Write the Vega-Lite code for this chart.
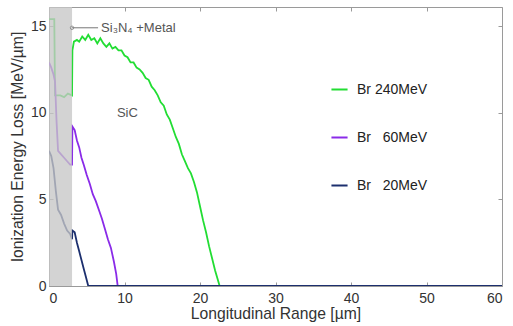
{
  "$schema": "https://vega.github.io/schema/vega-lite/v6.json",
  "width": 453,
  "height": 279,
  "autosize": {"type": "none"},
  "padding": {"left": 49, "top": 7, "right": 11, "bottom": 40},
  "config": {
    "font": "Liberation Sans",
    "view": {"stroke": "#9a9a9a", "strokeWidth": 1},
    "axis": {"grid": false, "domain": false, "tickColor": "#9a9a9a", "tickSize": -4, "labelFontSize": 14, "labelColor": "#333", "titleFontSize": 15.7, "titleColor": "#333", "titleFontWeight": "normal", "labelFont": "Liberation Sans", "titleFont": "Liberation Sans"}
  },
  "datasets": {
    "curves": [
      {"x": 0, "y": 15.4, "s": "Br 240MeV"}, {"x": 0.7, "y": 15.4, "s": "Br 240MeV"}, {"x": 0.8, "y": 11.0, "s": "Br 240MeV"}, {"x": 1.5, "y": 11.0, "s": "Br 240MeV"}, {"x": 2.0, "y": 10.9, "s": "Br 240MeV"}, {"x": 2.5, "y": 11.1, "s": "Br 240MeV"}, {"x": 3.05, "y": 11.0, "s": "Br 240MeV"}, {"x": 3.1, "y": 13.6, "s": "Br 240MeV"}, {"x": 3.3, "y": 14.1, "s": "Br 240MeV"}, {"x": 3.7, "y": 14.2, "s": "Br 240MeV"}, {"x": 4.0, "y": 14.1, "s": "Br 240MeV"}, {"x": 4.4, "y": 14.4, "s": "Br 240MeV"}, {"x": 4.8, "y": 14.2, "s": "Br 240MeV"}, {"x": 5.2, "y": 14.5, "s": "Br 240MeV"}, {"x": 5.6, "y": 14.2, "s": "Br 240MeV"}, {"x": 6.0, "y": 14.3, "s": "Br 240MeV"}, {"x": 6.4, "y": 14.0, "s": "Br 240MeV"}, {"x": 6.8, "y": 14.3, "s": "Br 240MeV"}, {"x": 7.2, "y": 14.0, "s": "Br 240MeV"}, {"x": 7.6, "y": 13.8, "s": "Br 240MeV"}, {"x": 8.0, "y": 14.0, "s": "Br 240MeV"}, {"x": 8.4, "y": 13.7, "s": "Br 240MeV"}, {"x": 8.8, "y": 13.8, "s": "Br 240MeV"}, {"x": 9.2, "y": 13.6, "s": "Br 240MeV"}, {"x": 9.6, "y": 13.6, "s": "Br 240MeV"}, {"x": 10.0, "y": 13.3, "s": "Br 240MeV"}, {"x": 10.4, "y": 13.2, "s": "Br 240MeV"}, {"x": 10.8, "y": 12.9, "s": "Br 240MeV"}, {"x": 11.2, "y": 12.9, "s": "Br 240MeV"}, {"x": 11.6, "y": 12.6, "s": "Br 240MeV"}, {"x": 12.0, "y": 12.5, "s": "Br 240MeV"}, {"x": 12.4, "y": 12.3, "s": "Br 240MeV"}, {"x": 12.8, "y": 12.0, "s": "Br 240MeV"}, {"x": 13.2, "y": 11.9, "s": "Br 240MeV"}, {"x": 13.6, "y": 11.5, "s": "Br 240MeV"}, {"x": 14.0, "y": 11.3, "s": "Br 240MeV"}, {"x": 14.4, "y": 11.0, "s": "Br 240MeV"}, {"x": 14.8, "y": 10.6, "s": "Br 240MeV"}, {"x": 15.2, "y": 10.4, "s": "Br 240MeV"}, {"x": 15.6, "y": 9.9, "s": "Br 240MeV"}, {"x": 16.0, "y": 9.6, "s": "Br 240MeV"}, {"x": 16.4, "y": 9.1, "s": "Br 240MeV"}, {"x": 16.8, "y": 8.6, "s": "Br 240MeV"}, {"x": 17.2, "y": 8.2, "s": "Br 240MeV"}, {"x": 17.6, "y": 7.6, "s": "Br 240MeV"}, {"x": 18.0, "y": 7.2, "s": "Br 240MeV"}, {"x": 18.4, "y": 6.8, "s": "Br 240MeV"}, {"x": 18.8, "y": 6.5, "s": "Br 240MeV"}, {"x": 19.2, "y": 6.0, "s": "Br 240MeV"}, {"x": 19.6, "y": 5.4, "s": "Br 240MeV"}, {"x": 20.0, "y": 4.6, "s": "Br 240MeV"}, {"x": 20.4, "y": 3.8, "s": "Br 240MeV"}, {"x": 20.8, "y": 3.1, "s": "Br 240MeV"}, {"x": 21.2, "y": 2.3, "s": "Br 240MeV"}, {"x": 21.6, "y": 1.6, "s": "Br 240MeV"}, {"x": 22.0, "y": 0.9, "s": "Br 240MeV"}, {"x": 22.4, "y": 0.3, "s": "Br 240MeV"}, {"x": 22.6, "y": 0, "s": "Br 240MeV"},
      {"x": 0, "y": 12.9, "s": "Br 60MeV"}, {"x": 0.3, "y": 12.6, "s": "Br 60MeV"}, {"x": 0.6, "y": 12.2, "s": "Br 60MeV"}, {"x": 0.8, "y": 11.8, "s": "Br 60MeV"}, {"x": 1.0, "y": 9.5, "s": "Br 60MeV"}, {"x": 1.2, "y": 7.8, "s": "Br 60MeV"}, {"x": 1.6, "y": 7.6, "s": "Br 60MeV"}, {"x": 2.0, "y": 7.4, "s": "Br 60MeV"}, {"x": 2.4, "y": 7.2, "s": "Br 60MeV"}, {"x": 2.8, "y": 7.0, "s": "Br 60MeV"}, {"x": 3.05, "y": 7.0, "s": "Br 60MeV"}, {"x": 3.1, "y": 9.2, "s": "Br 60MeV"}, {"x": 3.4, "y": 9.0, "s": "Br 60MeV"}, {"x": 3.7, "y": 8.4, "s": "Br 60MeV"}, {"x": 4.0, "y": 8.0, "s": "Br 60MeV"}, {"x": 4.3, "y": 7.4, "s": "Br 60MeV"}, {"x": 4.6, "y": 7.0, "s": "Br 60MeV"}, {"x": 5.0, "y": 6.4, "s": "Br 60MeV"}, {"x": 5.4, "y": 5.9, "s": "Br 60MeV"}, {"x": 5.8, "y": 5.3, "s": "Br 60MeV"}, {"x": 6.2, "y": 4.9, "s": "Br 60MeV"}, {"x": 6.6, "y": 4.4, "s": "Br 60MeV"}, {"x": 7.0, "y": 3.9, "s": "Br 60MeV"}, {"x": 7.4, "y": 3.3, "s": "Br 60MeV"}, {"x": 7.8, "y": 2.7, "s": "Br 60MeV"}, {"x": 8.2, "y": 2.2, "s": "Br 60MeV"}, {"x": 8.6, "y": 1.4, "s": "Br 60MeV"}, {"x": 8.9, "y": 0.7, "s": "Br 60MeV"}, {"x": 9.1, "y": 0, "s": "Br 60MeV"},
      {"x": 0, "y": 7.8, "s": "Br 20MeV"}, {"x": 0.3, "y": 7.5, "s": "Br 20MeV"}, {"x": 0.6, "y": 6.8, "s": "Br 20MeV"}, {"x": 0.9, "y": 5.5, "s": "Br 20MeV"}, {"x": 1.2, "y": 4.4, "s": "Br 20MeV"}, {"x": 1.6, "y": 4.1, "s": "Br 20MeV"}, {"x": 2.0, "y": 3.6, "s": "Br 20MeV"}, {"x": 2.4, "y": 3.2, "s": "Br 20MeV"}, {"x": 2.8, "y": 3.0, "s": "Br 20MeV"}, {"x": 3.05, "y": 2.7, "s": "Br 20MeV"}, {"x": 3.1, "y": 3.2, "s": "Br 20MeV"}, {"x": 3.4, "y": 3.1, "s": "Br 20MeV"}, {"x": 3.7, "y": 2.5, "s": "Br 20MeV"}, {"x": 4.0, "y": 2.0, "s": "Br 20MeV"}, {"x": 4.3, "y": 1.5, "s": "Br 20MeV"}, {"x": 4.6, "y": 1.0, "s": "Br 20MeV"}, {"x": 4.9, "y": 0.5, "s": "Br 20MeV"}, {"x": 5.2, "y": 0, "s": "Br 20MeV"}, {"x": 60, "y": 0, "s": "Br 20MeV"}
    ],
    "band": [{"x0": 0, "x1": 3.05, "y0": 0, "y1": 16.1}],
    "leader": [{"x0": 3.05, "x1": 6.5, "y": 14.9}],
    "labels": [
      {"x": 6.9, "y": 14.9, "t": "Si₃N₄ +Metal"},
      {"x": 9.0, "y": 10.0, "t": "SiC"}
    ]
  },
  "resolve": {"axis": {"x": "independent", "y": "independent"}},
  "layer": [
    {
      "data": {"name": "curves"},
      "mark": {"type": "line", "strokeWidth": 1.8, "clip": true},
      "encoding": {
        "x": {"field": "x", "type": "quantitative", "scale": {"domain": [0, 60], "nice": false}, "axis": {"title": "Longitudinal Range [µm]", "values": [0, 10, 20, 30, 40, 50, 60], "labelPadding": 9, "titlePadding": 1}},
        "y": {"field": "y", "type": "quantitative", "scale": {"domain": [0, 16.1], "nice": false}, "axis": {"title": "Ionization Energy Loss [MeV/µm]", "values": [0, 5, 10, 15], "labelPadding": 7, "titlePadding": 5}},
        "color": {"field": "s", "type": "nominal", "sort": null,
          "scale": {"domain": ["Br 240MeV", "Br 60MeV", "Br 20MeV"], "range": ["#22dd33", "#8a2be8", "#1c2f6e"]},
          "legend": {"title": null, "orient": "none", "legendX": 281, "legendY": 73, "symbolType": "stroke", "symbolSize": 260, "symbolStrokeWidth": 2, "labelFontSize": 14, "labelColor": "#222", "rowPadding": 31, "labelOffset": 8,
            "labelExpr": "datum.label == 'Br 240MeV' ? 'Br 240MeV' : replace(datum.label, 'Br ', 'Br\u00a0\u00a0\u00a0')"}}
      }
    },
    {
      "data": {"name": "band"},
      "mark": {"type": "rect", "color": "#c6c6c6", "opacity": 0.78},
      "encoding": {
        "x": {"field": "x0", "type": "quantitative", "axis": {"orient": "top", "labels": false, "title": null, "values": [0, 10, 20, 30, 40, 50, 60]}},
        "x2": {"field": "x1"},
        "y": {"field": "y0", "type": "quantitative", "axis": {"orient": "right", "labels": false, "title": null, "values": [0, 5, 10, 15]}},
        "y2": {"field": "y1"}
      }
    },
    {
      "data": {"name": "leader"},
      "mark": {"type": "rule", "color": "#777", "strokeWidth": 1},
      "encoding": {
        "x": {"field": "x0", "type": "quantitative", "axis": null},
        "x2": {"field": "x1"},
        "y": {"field": "y", "type": "quantitative", "axis": null}
      }
    },
    {
      "data": {"name": "leader"},
      "mark": {"type": "point", "color": "#777", "size": 12, "filled": false, "strokeWidth": 1},
      "encoding": {
        "x": {"field": "x0", "type": "quantitative", "axis": null},
        "y": {"field": "y", "type": "quantitative", "axis": null}
      }
    },
    {
      "data": {"name": "labels"},
      "mark": {"type": "text", "align": "left", "baseline": "middle", "fontSize": 13, "color": "#555", "font": "Liberation Sans"},
      "encoding": {
        "x": {"field": "x", "type": "quantitative", "axis": null},
        "y": {"field": "y", "type": "quantitative", "axis": null},
        "text": {"field": "t"}
      }
    }
  ]
}
